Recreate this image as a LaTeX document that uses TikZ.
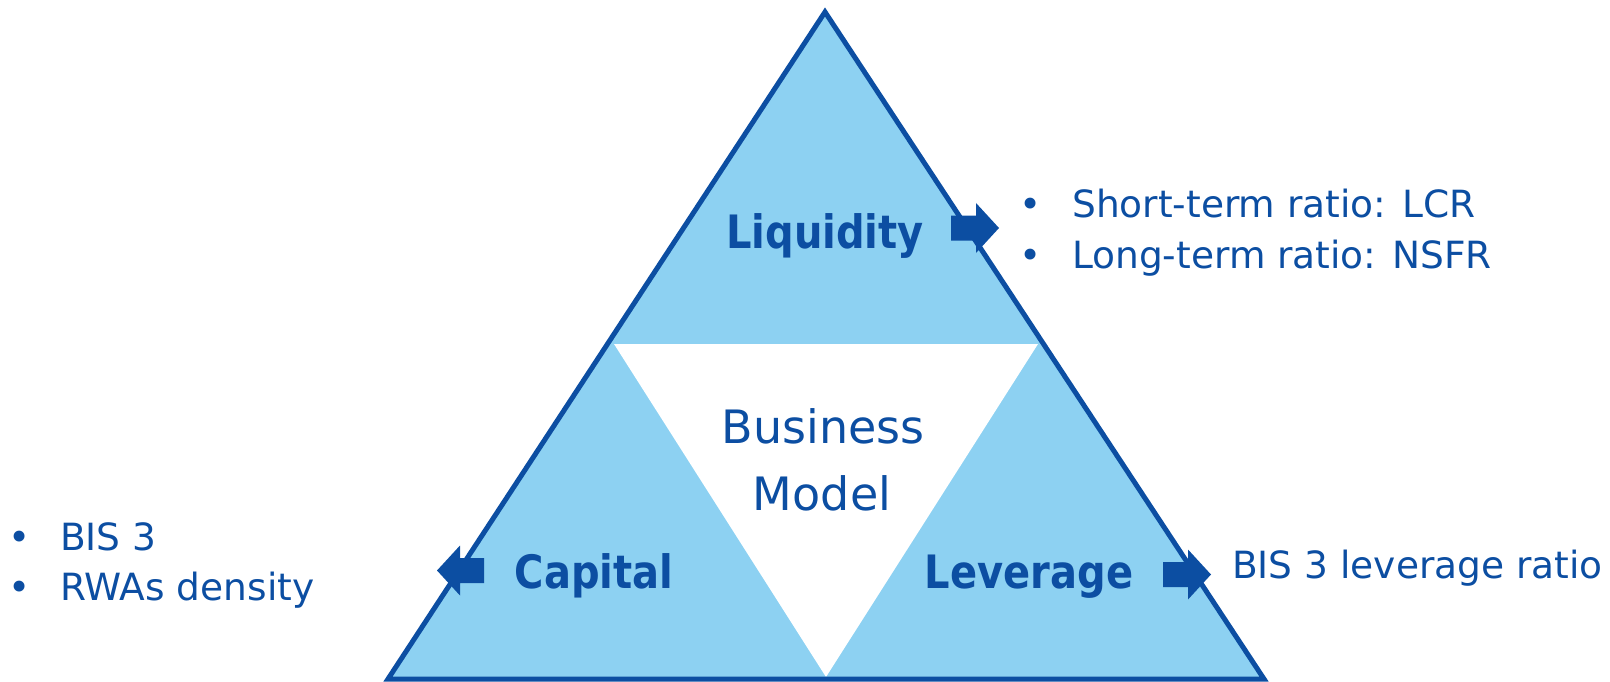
\documentclass[tikz,border=0pt]{standalone}
\usepackage{graphicx}
\usepackage{fontspec}
\setmainfont{DejaVu Sans}
\definecolor{dblue}{RGB}{12,78,162}
\definecolor{lblue}{RGB}{141,209,242}
\newcommand{\narrowlbl}[1]{\scalebox{0.87}[1]{#1}}
\begin{document}
\begin{tikzpicture}[x=1pt,y=-1pt,
  lbl/.style={font=\fontsize{46}{52}\selectfont\bfseries, text=dblue, inner sep=0},
  mid/.style={font=\fontsize{46}{55}\selectfont, text=dblue, inner sep=0},
  txt/.style={font=\fontsize{37.5}{45}\selectfont, text=dblue, inner sep=0},
  blockarrow/.style={fill=dblue, draw=none},
  edge/.style={draw=dblue, line width=5pt, line join=miter}]
\useasboundingbox (0,0) rectangle (1610,682);
\coordinate (A) at (825,12);
\coordinate (B) at (388,679);
\coordinate (C) at (1264,679);
\coordinate (W1) at (614,344);
\coordinate (W2) at (1038,344);
\coordinate (W3) at (826,677);
\fill[lblue] (A)--(B)--(C)--cycle;
\fill[white] (W1)--(W2)--(W3)--cycle;
\path[edge] (A)--(B)--(C)--cycle;
% block arrows
\fill[blockarrow] (951,215.5)--(976,215.5)--(976,203)--(999,228)--(976,253)--(976,240.5)--(951,240.5)--cycle;
\fill[blockarrow] (484,558)--(460,558)--(460,545.5)--(437,570.5)--(460,595.5)--(460,583)--(484,583)--cycle;
\fill[blockarrow] (1163,562)--(1188,562)--(1188,549.5)--(1211,574.5)--(1188,599.5)--(1188,587)--(1163,587)--cycle;
% labels
\node[lbl, anchor=base] (liq) at (825,248) {\narrowlbl{Liquidity}};
\node[lbl, anchor=base] (cap) at (594,588) {\narrowlbl{Capital}};
\node[lbl, anchor=base] (lev) at (1029,588) {\narrowlbl{Leverage}};
\node[mid, anchor=base] (bus) at (823,443) {Business};
\node[mid, anchor=base] (mod) at (822,510) {Model};
% right bullets
\node[txt, anchor=base] (rb1) at (1031,218) {•};
\node[txt, anchor=base west] (rt1) at (1072,218) {Short-term ratio: LCR};
\node[txt, anchor=base] (rb2) at (1031,268) {•};
\node[txt, anchor=base west] (rt2) at (1072,268) {Long-term ratio: NSFR};
% left bullets
\node[txt, anchor=base] (lb1) at (20,550) {•};
\node[txt, anchor=base west] (lt1) at (60,550) {BIS 3};
\node[txt, anchor=base] (lb2) at (20,600) {•};
\node[txt, anchor=base west] (lt2) at (60,600) {RWAs density};
% leverage text
\node[txt, anchor=base west] (levt) at (1232,578) {BIS 3 leverage ratio};
\end{tikzpicture}
\end{document}
